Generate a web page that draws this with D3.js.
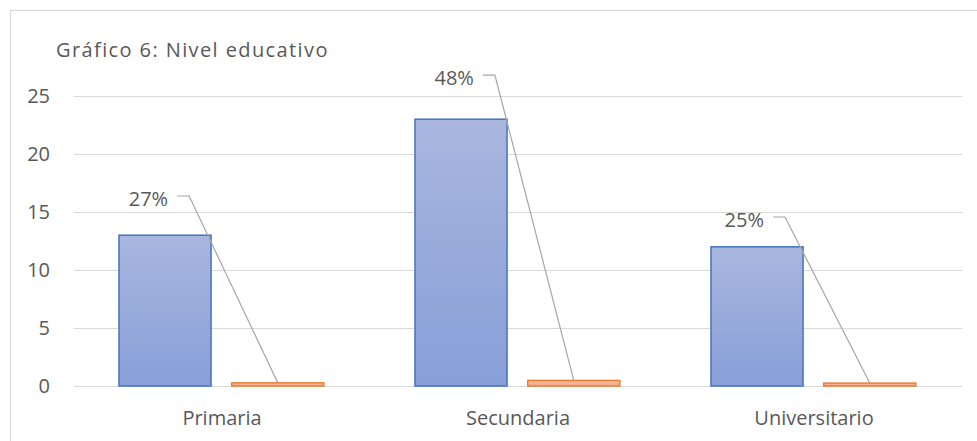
<!DOCTYPE html>
<html><head><meta charset="utf-8">
<script src="https://cdn.jsdelivr.net/npm/d3@7"></script>
<style>html,body{margin:0;padding:0;background:#fff;}svg{display:block;font-family:"Open Sans",sans-serif;}</style>
</head><body>
<svg id="c" width="977" height="441"></svg>
<script>
const categories = ["Primaria", "Secundaria", "Universitario"];
const counts = [13, 23, 12];
const shares = [0.27, 0.48, 0.25];
const shareLabels = ["27%", "48%", "25%"];
const yTicks = [0, 5, 10, 15, 20, 25];
const title = "Gráfico 6: Nivel educativo";
// label placement (leader height in value units, elbow as band fraction), manually dragged in original
const labelYValue = [16.38, 26.8, 14.57];
const labelElbowFrac = [0.389, 0.422, 0.402];

const FONT = "'Open Sans',sans-serif";
const svg = d3.select("#c");
const W = 977, H = 441;
const m = {left: 74, right: 15, top: 96, bottom: 55};
const x = d3.scaleBand().domain(categories).range([m.left, W - m.right]).paddingInner(0).paddingOuter(0);
const y = d3.scaleLinear().domain([0, 25]).range([H - m.bottom, m.top]);

// outer border
svg.append("rect").attr("x", 10.5).attr("y", 10.5).attr("width", 1000).attr("height", 1000)
  .attr("fill", "none").attr("stroke", "#d9d9d9").attr("stroke-width", 1.2);

const defs = svg.append("defs");
const gb = defs.append("linearGradient").attr("id", "gb").attr("x1", 0).attr("y1", 0).attr("x2", 0).attr("y2", 1);
gb.append("stop").attr("offset", "0%").attr("stop-color", "#a9b6de");
gb.append("stop").attr("offset", "100%").attr("stop-color", "#889fd8");
const go = defs.append("linearGradient").attr("id", "go").attr("x1", 0).attr("y1", 0).attr("x2", 0).attr("y2", 1);
go.append("stop").attr("offset", "0%").attr("stop-color", "#f7bfa0");
go.append("stop").attr("offset", "100%").attr("stop-color", "#f3a98a");

// title
svg.append("text").attr("x", 56).attr("y", 57).attr("fill", "#595959").attr("font-size", 20)
  .attr("letter-spacing", 1.4).attr("font-family", FONT).text(title);

// gridlines
const yAxis = d3.axisLeft(y).tickValues(yTicks).tickSize(-(W - m.right - m.left)).tickPadding(24);
const ga = svg.append("g").attr("transform", `translate(${m.left},0)`).call(yAxis);
ga.select(".domain").remove();
ga.selectAll(".tick line").attr("stroke", "#d9d9d9").attr("stroke-width", 1.2);
ga.selectAll(".tick text").attr("fill", "#595959").attr("font-size", 20).attr("font-family", FONT);

// x axis labels
const xa = svg.append("g").attr("transform", `translate(0,${y(0)})`).call(d3.axisBottom(x).tickSize(0).tickPadding(25));
xa.select(".domain").remove();
xa.selectAll(".tick text").attr("fill", "#595959").attr("font-size", 20).attr("font-family", FONT);

const bw = x.bandwidth();
const barW = bw * 0.311;
const blueX = c => x(c) + bw * 0.152;
const orangeX = c => x(c) + bw * 0.533;

svg.selectAll(".b").data(categories).join("rect")
  .attr("x", c => blueX(c)).attr("y", (c, i) => y(counts[i]))
  .attr("width", barW).attr("height", (c, i) => y(0) - y(counts[i]))
  .attr("fill", "url(#gb)").attr("stroke", "#4472c4").attr("stroke-width", 1.5);

svg.selectAll(".o").data(categories).join("rect")
  .attr("x", c => orangeX(c)).attr("y", (c, i) => y(shares[i]))
  .attr("width", barW).attr("height", (c, i) => y(0) - y(shares[i]))
  .attr("fill", "url(#go)").attr("stroke", "#ed7d31").attr("stroke-width", 1.5);

// leader lines + labels
categories.forEach((c, i) => {
  const ly = y(labelYValue[i]);
  const ex = x(c) + bw * labelElbowFrac[i];
  const tx = orangeX(c) + barW / 2, ty = y(shares[i]);
  svg.append("path").attr("d", `M${ex - 12},${ly}L${ex},${ly}L${tx},${ty}`)
    .attr("fill", "none").attr("stroke", "#a6a6a6").attr("stroke-width", 1.2);
  svg.append("text").attr("x", ex - 21).attr("y", ly + 10).attr("text-anchor", "end")
    .attr("fill", "#595959").attr("font-size", 20).attr("font-family", FONT).text(shareLabels[i]);
});
</script>
</body></html>
